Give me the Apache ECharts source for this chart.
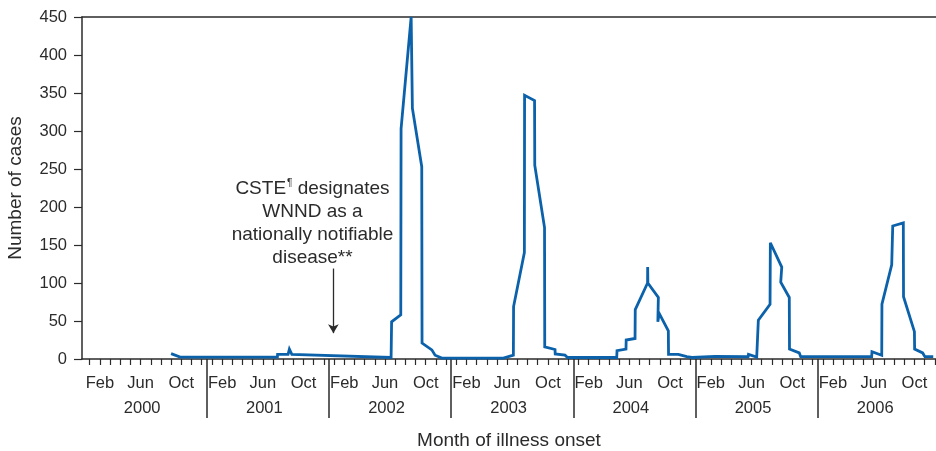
<!DOCTYPE html>
<html><head><meta charset="utf-8">
<script src="https://cdn.jsdelivr.net/npm/echarts@6/dist/echarts.min.js"></script>
<style>html,body{margin:0;padding:0;background:#fff}#c{width:936px;height:451px}</style>
</head><body><div id="c"></div>
<script>
// x = months since January 2000 (0 = Jan 2000 centre tick)
const monthIndex = [7.99, 8.88, 18.43, 18.45, 19.48, 19.61, 19.85, 29.6, 29.65, 30.55, 30.58, 31.57, 31.69, 32.61, 32.64, 33.6, 33.92, 34.58,
  40.63, 41.61, 41.63, 42.69, 42.71, 43.69, 43.71, 44.67, 44.69, 45.7, 45.72, 46.68, 46.93,
  51.76, 51.79, 52.67, 52.69, 53.56, 53.58, 54.79, 54.8, 54.82, 55.85, 55.8, 55.93, 56.83, 56.85, 57.81, 58.64, 59.16,
  61.41, 64.66, 64.7, 65.51, 65.67, 66.82, 66.85, 67.97, 67.87, 68.71, 68.73, 69.69, 69.83,
  76.8, 76.83, 77.79, 77.81, 78.77, 78.87, 79.91, 79.93, 81.0, 81.02, 81.81, 82.03, 82.85];
const cases = [7, 2.5, 2.5, 6, 6, 13, 6, 2, 49, 58, 303, 450, 330, 253, 21, 12, 5, 1.2,
  1.2, 5, 69, 140, 347, 340, 255, 173, 16, 12.5, 6.6, 5, 2,
  2, 11, 13, 25, 27, 65, 100, 121, 100, 81, 49, 60, 37, 6, 6, 3, 2,
  3.5, 3, 6, 2.5, 51, 72, 153, 121, 101, 81, 13, 8, 3,
  3, 9.6, 5, 72, 124, 175, 179, 82, 36, 13, 8, 3, 3];
const monthLabelNames = ['Feb', 'Jun', 'Oct'];
const monthLabelOffsets = [1, 5, 9];
const years = ['2000', '2001', '2002', '2003', '2004', '2005', '2006'];
const yMax = 450, yStep = 50;
const xTitle = 'Month of illness onset';
const yTitle = 'Number of cases';
const noteLines = ['CSTE', '¶', ' designates', 'WNND as a', 'nationally notifiable', 'disease**'];
const arrowMonth = 23.93, arrowFrom = 119, arrowTo = 34;

const xMin = -0.76, xMax = 83.12;
const ink = '#2b2b2b';
const font = 'Liberation Sans, Arial, Helvetica, sans-serif';

const monthTicks = [];
for (let m = 0; m < years.length * 12; m++) monthTicks.push(m);
const monthLabelVals = [];
years.forEach((y, i) => monthLabelOffsets.forEach(o => monthLabelVals.push(i * 12 + o)));
const yearSeps = [];
for (let i = 1; i < years.length; i++) yearSeps.push(i * 12 - 0.5);
const yearLabelVals = years.map((y, i) => i * 12 + 5.15);

const data = monthIndex.map((m, i) => [m, cases[i]]);

const chart = echarts.init(document.getElementById('c'), null, {renderer: 'canvas'});
chart.setOption({
  animation: false,
  backgroundColor: '#fff',
  grid: {left: 82, right: 0, top: 17, bottom: 92, containLabel: false, outerBoundsMode: 'none'},
  xAxis: [
    {
      type: 'value', min: xMin, max: xMax, position: 'bottom',
      axisLine: {show: true, onZero: false, lineStyle: {color: ink, width: 1.5}},
      axisTick: {show: true, customValues: monthTicks, length: 6, lineStyle: {color: ink, width: 1.2}},
      axisLabel: {show: true, customValues: monthLabelVals, margin: 16, color: ink, fontSize: 16.5, fontFamily: font,
        formatter: v => monthLabelNames[monthLabelOffsets.indexOf(Math.round(v) % 12)]},
      splitLine: {show: false}
    },
    {
      type: 'value', min: xMin, max: xMax, position: 'bottom',
      axisLine: {show: false, onZero: false},
      axisTick: {show: true, customValues: yearSeps, length: 59, lineStyle: {color: ink, width: 1.5}},
      axisLabel: {show: true, customValues: yearLabelVals, margin: 41, color: ink, fontSize: 16.5, fontFamily: font,
        formatter: v => years[Math.floor(v / 12)]},
      splitLine: {show: false},
      name: xTitle, nameLocation: 'middle', nameGap: 72, nameMoveOverlap: false,
      nameTextStyle: {color: ink, fontSize: 19, fontFamily: font}
    },
    {
      type: 'value', min: xMin, max: xMax, position: 'top',
      axisLine: {show: true, onZero: false, lineStyle: {color: ink, width: 1.5}},
      axisTick: {show: false}, axisLabel: {show: false}, splitLine: {show: false}
    }
  ],
  yAxis: {
    type: 'value', min: 0, max: yMax, interval: yStep,
    axisLine: {show: true, onZero: false, lineStyle: {color: ink, width: 1.5}},
    axisTick: {show: true, length: 8, lineStyle: {color: ink, width: 1.2}},
    axisLabel: {margin: 15, color: ink, fontSize: 16.5, fontFamily: font},
    splitLine: {show: false},
    name: yTitle, nameLocation: 'middle', nameGap: 57, nameRotate: 90, nameMoveOverlap: false,
    nameTextStyle: {color: ink, fontSize: 19, fontFamily: font}
  },
  series: [{
    type: 'line', xAxisIndex: 0, data: data, showSymbol: false, symbol: 'none',
    lineStyle: {color: '#0b62ab', width: 2.8, join: 'miter', miterLimit: 4},
    emphasis: {disabled: true},
    markLine: {
      silent: true, animation: false,
      symbol: ['none', 'arrow'], symbolSize: [8, 9],
      label: {show: false},
      lineStyle: {color: ink, width: 1.3, type: 'solid'},
      data: [[{coord: [arrowMonth, arrowFrom]}, {coord: [arrowMonth, arrowTo]}]]
    }
  }],
  graphic: [{
    type: 'text', x: 312.5, y: 177, silent: true,
    style: {
      text: '{a|' + noteLines[0] + '}{s|' + noteLines[1] + '}{a|' + noteLines[2] + '}\n{a|' + noteLines[3] + '}\n{a|' + noteLines[4] + '}\n{a|' + noteLines[5] + '}',
      align: 'center', verticalAlign: 'top', fill: ink, fontSize: 19, fontFamily: font, lineHeight: 23,
      rich: {
        a: {fontSize: 19, fontFamily: font, fill: ink, color: ink, lineHeight: 23, align: 'center'},
        s: {fontSize: 10, fontFamily: font, fill: ink, color: ink, lineHeight: 23, verticalAlign: 'top', padding: [1, 0, 0, 1], align: 'center'}
      }
    }
  }]
});
</script></body></html>
